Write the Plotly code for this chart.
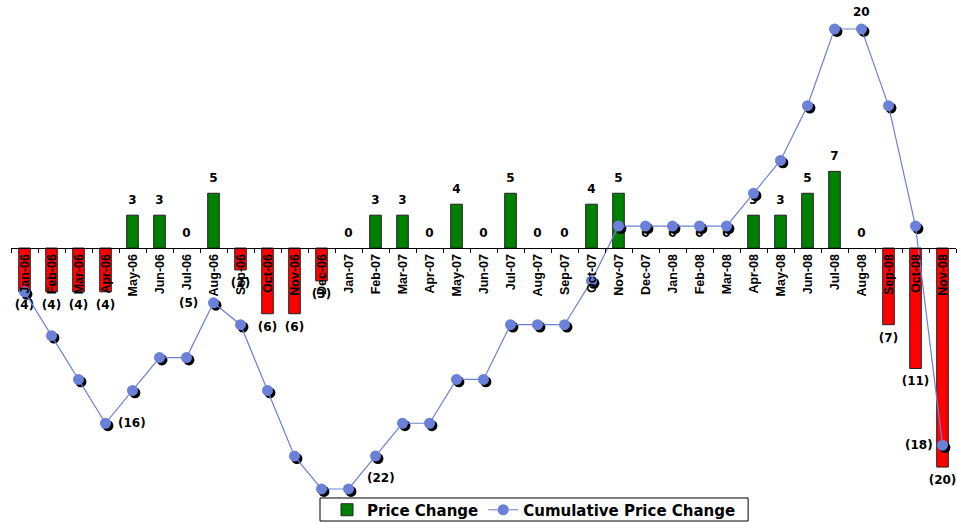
import plotly.graph_objects as go

# Monthly price change and running total, Jan-06 .. Nov-08
months = ["Jan-06", "Feb-06", "Mar-06", "Apr-06", "May-06", "Jun-06", "Jul-06", "Aug-06",
          "Sep-06", "Oct-06", "Nov-06", "Dec-06", "Jan-07", "Feb-07", "Mar-07", "Apr-07",
          "May-07", "Jun-07", "Jul-07", "Aug-07", "Sep-07", "Oct-07", "Nov-07", "Dec-07",
          "Jan-08", "Feb-08", "Mar-08", "Apr-08", "May-08", "Jun-08", "Jul-08", "Aug-08",
          "Sep-08", "Oct-08", "Nov-08"]
price_change = [-4, -4, -4, -4, 3, 3, 0, 5, -2, -6, -6, -3, 0, 3, 3, 0, 4, 0, 5, 0, 0, 4, 5,
                0, 0, 0, 0, 3, 3, 5, 7, 0, -7, -11, -20]
cumulative = [-4, -8, -12, -16, -13, -10, -10, -5, -7, -13, -19, -22, -22, -19, -16, -16,
              -12, -12, -7, -7, -7, -3, 2, 2, 2, 2, 2, 5, 8, 13, 20, 20, 13, 2, -18]
# months whose running total gets a label: (xanchor, xshift, yshift)
cum_labelled = {"Apr-06": ("left", 10, 0), "Aug-06": ("right", -14, 0),
                "Jan-07": ("center", 32, 11), "Aug-08": ("center", 0, 17),
                "Nov-08": ("right", -8, 0)}


def fmt(v):
    return f"({abs(v)})" if v < 0 else str(v)


GREEN = "#008000"
RED = "#FF0000"
BLUE = "#6B80D8"
LABEL_FONT = dict(family="DejaVu Sans, Verdana, sans-serif", size=12, color="black", weight="bold")

y_min, y_max = -22.55, 22.19
x_min, x_max = -0.5, len(months) - 0.5
shadow_dx = 0.09   # in category units
shadow_dy = 0.22   # in value units

fig = go.Figure()

# rises in green, falls in red; one legend entry for both
ups = [v if v > 0 else None for v in price_change]
downs = [v if v < 0 else None for v in price_change]
bar_line = dict(color="#222222", width=1)
fig.add_trace(go.Bar(
    x=months, y=ups, name="Price Change", legendgroup="pc",
    marker=dict(color=GREEN, line=bar_line), width=0.43, xaxis="x", yaxis="y",
))
fig.add_trace(go.Bar(
    x=months, y=downs, name="Price Change", legendgroup="pc", showlegend=False,
    marker=dict(color=RED, line=bar_line), width=0.43, xaxis="x", yaxis="y",
))

# value labels at the bar ends (invisible markers set the gap to the bar)
fig.add_trace(go.Scatter(
    x=months, y=price_change, mode="markers+text",
    marker=dict(size=11, color="rgba(0,0,0,0)"),
    text=[fmt(v) for v in price_change],
    textposition=["top center" if v >= 0 else "bottom center" for v in price_change],
    textfont=LABEL_FONT, showlegend=False, hoverinfo="skip", cliponaxis=False,
    xaxis="x", yaxis="y",
))

# drop shadow under the cumulative markers
fig.add_trace(go.Scatter(
    x=months, y=cumulative, mode="markers",
    marker=dict(symbol="circle", size=11, color="black"),
    showlegend=False, hoverinfo="skip", cliponaxis=False,
    xaxis="x2", yaxis="y2",
))

fig.add_trace(go.Scatter(
    x=months, y=cumulative, name="Cumulative Price Change",
    mode="lines+markers",
    line=dict(color=BLUE, width=1.2),
    marker=dict(symbol="circle", size=11, color=BLUE),
    cliponaxis=False, xaxis="x3", yaxis="y3",
))

# labels on selected points of the running total
for m, v in zip(months, cumulative):
    if m in cum_labelled:
        anchor, dx, dy = cum_labelled[m]
        fig.add_annotation(x=m, y=v, xref="x3", yref="y3", text=fmt(v), showarrow=False,
                           font=LABEL_FONT, xanchor=anchor, xshift=dx, yshift=dy)

zero_pos = -y_min / (y_max - y_min)
hidden = dict(visible=False, showgrid=False, zeroline=False)

# legend frame
fig.add_shape(type="rect", xref="paper", yref="paper",
              x0=0.327, x1=0.780, y0=-0.0531, y1=-0.0061,
              line=dict(color="black", width=1), fillcolor="white", layer="above")

fig.update_layout(
    width=957, height=522,
    margin=dict(l=11, r=1, t=5, b=27, autoexpand=False),
    paper_bgcolor="white", plot_bgcolor="white",
    barmode="overlay",
    xaxis=dict(
        type="category", range=[x_min, x_max], anchor="free", position=zero_pos,
        showline=True, linecolor="black", linewidth=1,
        ticks="outside", ticklen=4, tickcolor="black", tickson="boundaries",
        tickangle=-90, showgrid=False, zeroline=False, automargin=False,
        tickfont=dict(family="Liberation Sans Narrow, Arial Narrow, sans-serif", size=12.5,
                      color="black", weight="bold"),
    ),
    yaxis=dict(range=[y_min, y_max], **hidden),
    xaxis2=dict(type="category", range=[x_min - shadow_dx, x_max - shadow_dx],
                overlaying="x", anchor="y2", **hidden),
    yaxis2=dict(range=[y_min + shadow_dy, y_max + shadow_dy], overlaying="y", anchor="x2", **hidden),
    xaxis3=dict(type="category", range=[x_min, x_max], overlaying="x", anchor="y3", **hidden),
    yaxis3=dict(range=[y_min, y_max], overlaying="y", anchor="x3", **hidden),
    showlegend=True,
    legend=dict(
        orientation="h", xref="container", yref="container",
        x=0.558, xanchor="center", y=0.023, yanchor="middle",
        borderwidth=0, bgcolor="rgba(0,0,0,0)",
        font=dict(family="DejaVu Sans, Verdana, sans-serif", size=15, color="black", weight="bold"),
        itemwidth=30, tracegroupgap=0,
    ),
)

fig.write_html("out.html")
